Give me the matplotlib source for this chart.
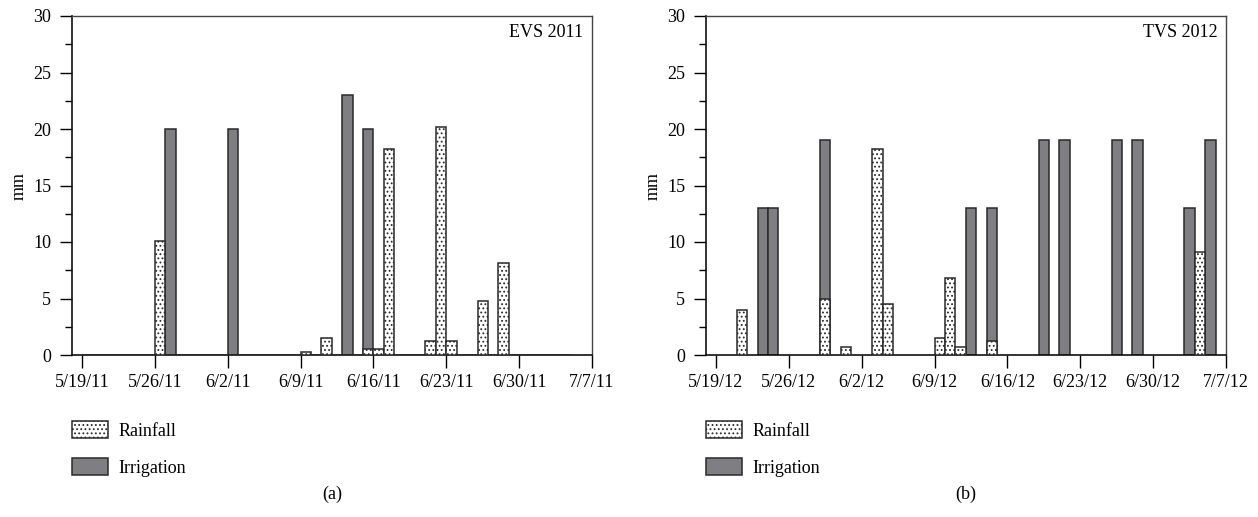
import datetime as dt
import matplotlib
matplotlib.use("Agg")
import matplotlib.pyplot as plt
import matplotlib.dates as mdates
from matplotlib.patches import Patch

plt.rcParams['font.family'] = ['Liberation Serif', 'DejaVu Serif']
plt.rcParams['hatch.color'] = '#222222'
plt.rcParams['hatch.linewidth'] = 0.8

# ---------------- data ----------------
# 2011 (EVS): daily rainfall 5/19/11 .. 7/4/11 (47 days)
rain_2011_start = dt.date(2011, 5, 19)
rain_2011 = [0, 0, 0, 0, 0, 0, 0, 10.1, 0, 0, 0, 0, 0, 0,
             0, 0, 0, 0, 0, 0, 0, 0.25, 0, 1.5, 0, 0, 0, 0.5,
             0.5, 18.2, 0, 0, 0, 1.25, 20.2, 1.25, 0, 0, 4.8, 0, 8.1,
             0, 0, 0, 0, 0, 0]
irr_2011_dates = ["2011-05-27", "2011-06-02", "2011-06-13", "2011-06-15"]
irr_2011 = [20, 20, 23, 20]

# 2012 (TVS)
rain_2012_dates = ["2012-05-21", "2012-05-29", "2012-05-31", "2012-06-03", "2012-06-04",
                   "2012-06-09", "2012-06-10", "2012-06-11", "2012-06-14", "2012-07-04"]
rain_2012 = [4.0, 5.0, 0.75, 18.2, 4.5, 1.5, 6.8, 0.75, 1.25, 9.1]
irr_2012_dates = ["2012-05-23", "2012-05-24", "2012-05-29", "2012-06-12", "2012-06-14",
                  "2012-06-19", "2012-06-21", "2012-06-26", "2012-06-28", "2012-07-03",
                  "2012-07-05"]
irr_2012 = [13, 13, 19, 13, 13, 19, 19, 19, 19, 13, 19]

ticks_2011 = ["5/19/11", "5/26/11", "6/2/11", "6/9/11", "6/16/11", "6/23/11", "6/30/11", "7/7/11"]
ticks_2012 = ["5/19/12", "5/26/12", "6/2/12", "6/9/12", "6/16/12", "6/23/12", "6/30/12", "7/7/12"]
panel_titles = ["EVS 2011", "TVS 2012"]
panel_labels = ["(a)", "(b)"]
legend_labels = ["Rainfall", "Irrigation"]

IRR_FACE = '#7f7f83'
EDGE = '#2a2a2a'
FS = 13

def d(s):
    return dt.date.fromisoformat(s)

W, H = 1258, 517
fig = plt.figure(figsize=(W / 100, H / 100), dpi=100)

ax_w = 520 / W
ax_h = (355 - 16) / H
ax_b = 1 - 355 / H
axes = [fig.add_axes([72 / W, ax_b, ax_w, ax_h]),
        fig.add_axes([706 / W, ax_b, ax_w, ax_h])]

def style(ax, year, ticklabels, title):
    start = dt.date(year, 5, 19)
    tdates = [start + dt.timedelta(days=7 * i) for i in range(8)]
    ax.set_xticks([mdates.date2num(t) for t in tdates])
    ax.set_xticklabels(ticklabels, fontsize=FS)
    ax.set_xlim(mdates.date2num(start) - 0.96, mdates.date2num(tdates[-1]))
    ax.set_ylim(0, 30)
    ax.set_yticks([0, 5, 10, 15, 20, 25, 30])
    ax.set_yticks([2.5, 7.5, 12.5, 17.5, 22.5, 27.5], minor=True)
    ax.tick_params(axis='y', which='major', direction='out', length=9, width=1, labelsize=FS, pad=6)
    ax.tick_params(axis='y', which='minor', direction='out', length=5, width=1)
    ax.tick_params(axis='x', which='major', direction='out', length=9, width=1, labelsize=FS, pad=5)
    for s in ['left', 'bottom']:
        ax.spines[s].set_linewidth(1.2)
        ax.spines[s].set_color('#111111')
    for s in ['top', 'right']:
        ax.spines[s].set_linewidth(1.0)
        ax.spines[s].set_color('#444444')
    ax.set_ylabel("mm", fontsize=FS, labelpad=4)
    ax.text(0.983, 0.95, title, transform=ax.transAxes, ha='right', va='center', fontsize=FS)

# panel a
ax = axes[0]
irr_x = [mdates.date2num(d(s)) for s in irr_2011_dates]
ax.bar(irr_x, irr_2011, width=1.0, align='edge', color=IRR_FACE, edgecolor=EDGE, linewidth=1.1, zorder=2)
rx = [mdates.date2num(rain_2011_start + dt.timedelta(days=i)) for i in range(len(rain_2011))]
ax.bar(rx, rain_2011, width=1.0, align='edge', color='white', edgecolor=EDGE, linewidth=1.1,
       hatch='....', zorder=3)
style(ax, 2011, ticks_2011, panel_titles[0])

# panel b
ax = axes[1]
irr_x = [mdates.date2num(d(s)) for s in irr_2012_dates]
ax.bar(irr_x, irr_2012, width=1.0, align='edge', color=IRR_FACE, edgecolor=EDGE, linewidth=1.1, zorder=2)
rx = [mdates.date2num(d(s)) for s in rain_2012_dates]
ax.bar(rx, rain_2012, width=1.0, align='edge', color='white', edgecolor=EDGE, linewidth=1.1,
       hatch='....', zorder=3)
style(ax, 2012, ticks_2012, panel_titles[1])

# legends
handles = [Patch(facecolor='white', edgecolor=EDGE, hatch='....', linewidth=1.1),
           Patch(facecolor=IRR_FACE, edgecolor=EDGE, linewidth=1.1)]
for x0 in (72, 706):
    fig.legend(handles, legend_labels, loc='upper left',
               bbox_to_anchor=(x0 / W, 1 - 421 / H), frameon=False,
               fontsize=FS, handlelength=2.0, handleheight=1.1,
               handletextpad=0.55, labelspacing=1.0, borderpad=0, borderaxespad=0)

fig.text(332 / W, 1 - 494 / H, panel_labels[0], ha='center', va='center', fontsize=FS)
fig.text(966 / W, 1 - 494 / H, panel_labels[1], ha='center', va='center', fontsize=FS)

fig.savefig("out.png", dpi=100)
